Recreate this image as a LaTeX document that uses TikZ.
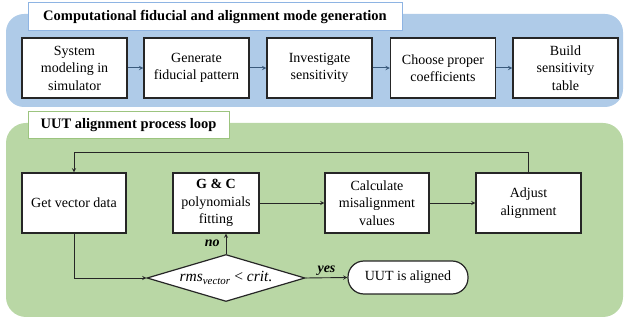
\documentclass[tikz,border=0pt]{standalone}
\usepackage{fontspec}
\setmainfont{Liberation Serif}
\usetikzlibrary{shapes.geometric}

\definecolor{panelblue}{HTML}{AFCBE8}
\definecolor{titleblue}{HTML}{8EB4E3}
\definecolor{panelgreen}{HTML}{B9D7A5}
\definecolor{titlegreen}{HTML}{9CC47F}
\definecolor{arrowblue}{HTML}{3A5A7C}

\begin{document}
\begin{tikzpicture}[x=1pt, y=-1pt, >=stealth,
    every node/.style={font=\fontsize{14}{17.5}\selectfont},
    stepbox/.style={rectangle, draw=black!85, line width=1.2pt, fill=white,
        minimum width=105pt, minimum height=60pt, align=center, inner sep=2pt},
    titlebox/.style={rectangle, fill=white, line width=1pt, inner sep=0pt,
        font=\fontsize{14.5}{17}\selectfont\bfseries},
    flowline/.style={draw=black!85, line width=0.9pt},
    topline/.style={draw=arrowblue, line width=1pt}]

  \useasboundingbox (0,0) rectangle (624,320);

  % Panels
  \fill[panelblue, rounded corners=18pt] (6,14) rectangle (623,107);
  \fill[panelgreen, rounded corners=20pt] (6,123) rectangle (623,317);

  % Titles
  \node[titlebox, draw=titleblue, minimum width=374pt, minimum height=28pt] (t1) at (215,16.5)
      {Computational fiducial and alignment mode generation};
  \node[titlebox, draw=titlegreen, minimum width=201pt, minimum height=27pt] (t2) at (128.5,125.5)
      {UUT alignment process loop};

  % Nodes (upper row)
  \node[stepbox] (sys) at (74.5,68) {System\\modeling in\\simulator};
  \node[stepbox] (gen) at (196.5,68) {Generate\\fiducial pattern};
  \node[stepbox] (inv) at (319.5,68) {Investigate\\sensitivity};
  \node[stepbox] (coe) at (443,68) {Choose proper\\coefficients};
  \node[stepbox] (tab) at (565.5,68) {Build\\sensitivity\\table};

  % Nodes (lower row)
  \node[stepbox, minimum width=104pt] (vec) at (74,203) {Get vector data};
  \node[stepbox, minimum width=86pt] (fit) at (216,203) {\textbf{G \& C}\\polynomials\\fitting};
  \node[stepbox, minimum width=104pt] (mis) at (377,203) {Calculate\\misalignment\\values};
  \node[stepbox] (adj) at (528.5,203) {Adjust\\alignment};
  \node[diamond, draw=black!85, line width=1.2pt, fill=white, aspect=3.36, inner sep=0pt,
      minimum width=158pt, minimum height=47pt, font=\fontsize{15.5}{18}\selectfont] (crit) at (226,278)
      {\textit{rms}\textsubscript{\textit{vector}} < \textit{crit.}};
  \node[rectangle, draw=black!85, line width=1.2pt, fill=white, rounded corners=16pt,
      minimum width=120pt, minimum height=33pt] (done) at (408,277.5) {UUT is aligned};

  % Edges
  \draw[topline, ->] (sys) -- (gen);
  \draw[topline, ->] (gen) -- (inv);
  \draw[topline, ->] (inv) -- (coe);
  \draw[topline, ->] (coe) -- (tab);

  \draw[flowline, ->] (fit) -- (mis);
  \draw[flowline, ->] (mis) -- (adj);
  \draw[flowline, ->] (adj.north) -- ++(0,-20) -| (vec.north); % loop back
  \draw[flowline, ->] (vec.south) |- (crit.west);
  \draw[flowline, ->] (crit.north) -- (crit.north |- fit.south)
      node[midway, left, inner sep=6pt, font=\fontsize{14}{17}\selectfont\bfseries\itshape] {no};
  \draw[flowline, ->] (crit.east) -- (done.west)
      node[midway, above, inner sep=2pt, font=\fontsize{14}{17}\selectfont\bfseries\itshape] {yes};

\end{tikzpicture}
\end{document}
